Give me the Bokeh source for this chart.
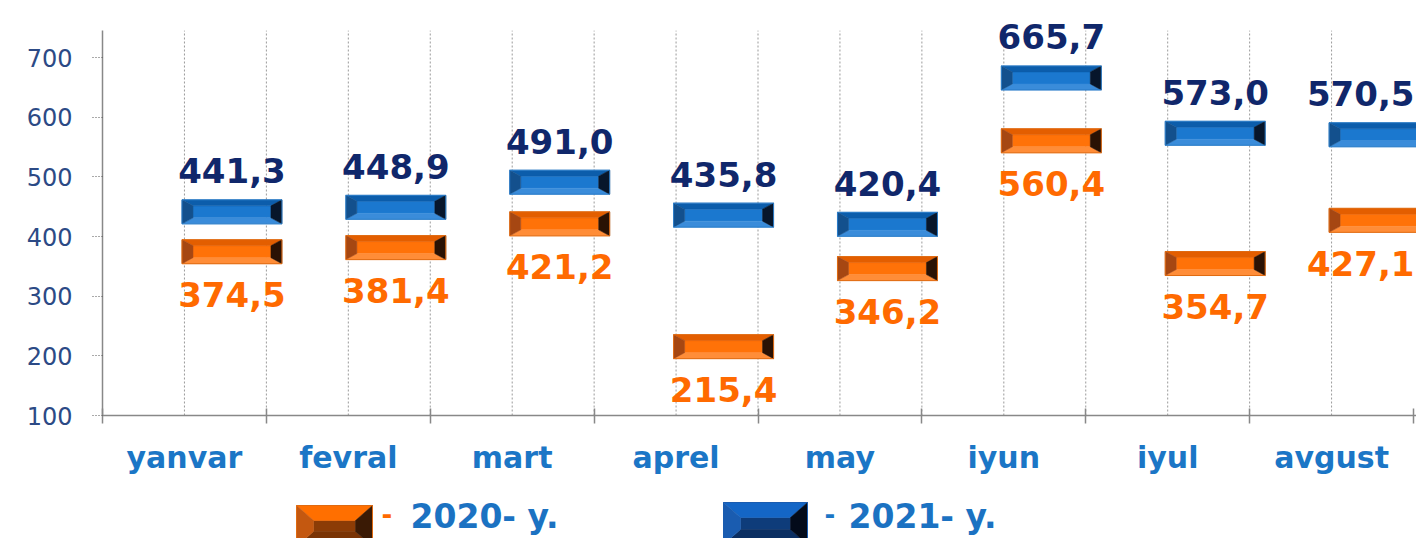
import numpy as np
from bokeh.plotting import figure
from bokeh.models import Range1d, FixedTicker
from bokeh.layouts import column
from bokeh.embed import file_html
from bokeh.resources import INLINE
from bokeh.core.properties import value

# ---- data ----
months = ["yanvar", "fevral", "mart", "aprel", "may", "iyun", "iyul", "avgust"]
y2020 = [374.5, 381.4, 421.2, 215.4, 346.2, 560.4, 354.7, 427.1]
y2021 = [441.3, 448.9, 491.0, 435.8, 420.4, 665.7, 573.0, 570.5]
y_ticks = [100, 200, 300, 400, 500, 600, 700]
series_names = ["2020- y.", "2021- y."]

def fmt(v):
    return f"{v:.1f}".replace(".", ",")

lab2020 = [fmt(v) for v in y2020]
lab2021 = [fmt(v) for v in y2021]

# ---- layout constants ----
W = 1416
H_MAIN = 490
FRAME_L, FRAME_T, FRAME_B = 102, 5, 415
CAT_W = (1413 - 102) / 8.0
n = len(months)
Y0, Y_AXIS_TOP = 100, 745
upp_y = 600 / 358.0
y_end = Y0 + (FRAME_B - FRAME_T) * upp_y
upp_x = 1.0 / CAT_W
x_end = (W - FRAME_L) * upp_x

FONT_NAME = "DejaVu Sans"
FONT = value(FONT_NAME)
VAL_SIZE = 34

p = figure(width=W, height=H_MAIN, x_range=Range1d(0, x_end), y_range=Range1d(Y0, y_end),
           output_backend="svg", toolbar_location=None,
           min_border_left=FRAME_L, min_border_right=0,
           min_border_top=FRAME_T, min_border_bottom=H_MAIN - FRAME_B)
p.outline_line_color = None
p.background_fill_color = "white"
p.border_fill_color = "white"
p.grid.visible = False

# grid lines (dotted) at category centres and boundaries
gx = list(np.arange(1, 2 * n) * 0.5)
p.segment(x0=gx, y0=[Y0] * len(gx), x1=gx, y1=[Y_AXIS_TOP] * len(gx),
          line_color="#9a9a9a", line_width=1, line_dash="2 2")

# x axis
centers = list(np.arange(n) + 0.5)
p.xaxis.ticker = FixedTicker(ticks=centers, minor_ticks=list(range(0, n + 1)))
p.xaxis.major_label_overrides = {c: m for c, m in zip(centers, months)}
p.xaxis.major_tick_line_color = None
p.xaxis.major_tick_out = 0
p.xaxis.major_tick_in = 0
p.xaxis.minor_tick_line_color = "#888888"
p.xaxis.minor_tick_line_width = 1.5
p.xaxis.minor_tick_out = 8
p.xaxis.minor_tick_in = 7
p.xaxis.axis_line_color = "#888888"
p.xaxis.axis_line_width = 1.5
p.xaxis.major_label_standoff = 16
p.xaxis.major_label_text_font = FONT_NAME
p.xaxis.major_label_text_font_style = "bold"
p.xaxis.major_label_text_font_size = "30px"
p.xaxis.major_label_text_color = "#1b76c6"

# y axis
p.yaxis.ticker = FixedTicker(ticks=y_ticks, minor_ticks=[])
p.yaxis.bounds = (Y0, Y_AXIS_TOP)
p.yaxis.axis_line_color = "#888888"
p.yaxis.axis_line_width = 1.5
p.yaxis.major_tick_out = 10
p.yaxis.major_tick_in = 0
p.yaxis.major_tick_line_color = "#555555"
p.yaxis.major_tick_line_dash = "1 2"
p.yaxis.minor_tick_line_color = None
p.yaxis.major_label_standoff = 20
p.yaxis.major_label_text_font = FONT_NAME
p.yaxis.major_label_text_font_size = "24px"
p.yaxis.major_label_text_color = "#2c4a85"


def bevel(x0, x1, y0, y1, bx, by):
    ix0, ix1, iy0, iy1 = x0 + bx, x1 - bx, y0 + by, y1 - by
    return {
        "center": ([ix0, ix1, ix1, ix0], [iy0, iy0, iy1, iy1]),
        "top": ([x0, x1, ix1, ix0], [y1, y1, iy1, iy1]),
        "bottom": ([x0, x1, ix1, ix0], [y0, y0, iy0, iy0]),
        "left": ([x0, ix0, ix0, x0], [y0, iy0, iy1, y1]),
        "right": ([x1, ix1, ix1, x1], [y0, iy0, iy1, y1]),
    }


def draw_bevels(fig, boxes, colors, outline):
    for face in ["center", "top", "bottom", "left", "right"]:
        xs, ys = [], []
        for b in boxes:
            fx, fy = bevel(*b)[face]
            xs.append(fx)
            ys.append(fy)
        fig.patches(xs=xs, ys=ys, fill_color=colors[face], line_color=colors[face], line_width=0.5)
    fig.quad(left=[b[0] for b in boxes], right=[b[1] for b in boxes],
             bottom=[b[2] for b in boxes], top=[b[3] for b in boxes],
             fill_color=None, line_color=outline, line_width=1)


blue = {"center": "#1b78cf", "top": "#0c5dab", "bottom": "#3a8cda", "left": "#13508d", "right": "#07162b"}
orange = {"center": "#ff7208", "top": "#e35e00", "bottom": "#ff8d38", "left": "#a64712", "right": "#2a1204"}

xc = np.arange(n) + 0.5
bx0 = xc - 0.015
bx1 = xc + 0.595
hh = 12 * upp_y
bwx = 11 * upp_x
bwy = 6 * upp_y

boxes20 = [(bx0[i], bx1[i], y2020[i] - hh, y2020[i] + hh, bwx, bwy) for i in range(n)]
boxes21 = [(bx0[i], bx1[i], y2021[i] - hh, y2021[i] + hh, bwx, bwy) for i in range(n)]
draw_bevels(p, boxes20, orange, "#e06a10")
draw_bevels(p, boxes21, blue, "#2a7cc8")


def label_x(labels):
    # keep labels inside the plot: clamp so the right edge stays in view
    out = []
    for i, t in enumerate(labels):
        half = 0.5 * (sum(0.38 if ch == "," else 0.696 for ch in t) * VAL_SIZE) * upp_x
        c = (bx0[i] + bx1[i]) / 2
        out.append(min(c, x_end - 2 * upp_x - half))
    return out


p.text(x=label_x(lab2021), y=y2021, text=lab2021, text_align="center", text_baseline="alphabetic",
       y_offset=-41, text_font=FONT, text_font_style="bold", text_font_size=f"{VAL_SIZE}px",
       text_color="#10276b")
p.text(x=label_x(lab2020), y=y2020, text=lab2020, text_align="center", text_baseline="alphabetic",
       y_offset=43, text_font=FONT, text_font_style="bold", text_font_size=f"{VAL_SIZE}px",
       text_color="#ff6a00")

# ---- legend strip (frame aligned with the main frame: x in canvas pixels) ----
H_LEG = 48
leg = figure(width=W, height=H_LEG, x_range=Range1d(FRAME_L, W), y_range=Range1d(0, H_LEG),
             output_backend="svg", toolbar_location=None, min_border=0,
             min_border_left=FRAME_L,
             x_axis_type=None, y_axis_type=None)
leg.outline_line_color = None
leg.grid.visible = False

leg_orange = {"center": "#8c3c06", "top": "#ff6f00", "bottom": "#7a3405", "left": "#c45810", "right": "#3a1a05"}
leg_blue = {"center": "#0e3c7a", "top": "#1466c6", "bottom": "#0b2f62", "left": "#1a5cb0", "right": "#030b1a"}
draw_bevels(leg, [(296, 372, -8, 33, 17, 15)], leg_orange, "#e06a10")
draw_bevels(leg, [(723, 807, -6, 36, 17, 15)], leg_blue, "#1a5cb0")

leg.text(x=[381, 824], y=[25, 25], text=["-", "-"], text_color=["#ff6a00", "#1b76c6"],
         text_font=FONT, text_font_style="bold", text_font_size="26px", text_baseline="alphabetic")
leg.text(x=[410, 848], y=[22, 22], text=series_names, text_color="#1b72c2",
         text_font=FONT, text_font_style="bold", text_font_size="33px", text_baseline="alphabetic")

layout = column(p, leg, spacing=0)
open("out.html", "w").write(file_html(layout, INLINE))
